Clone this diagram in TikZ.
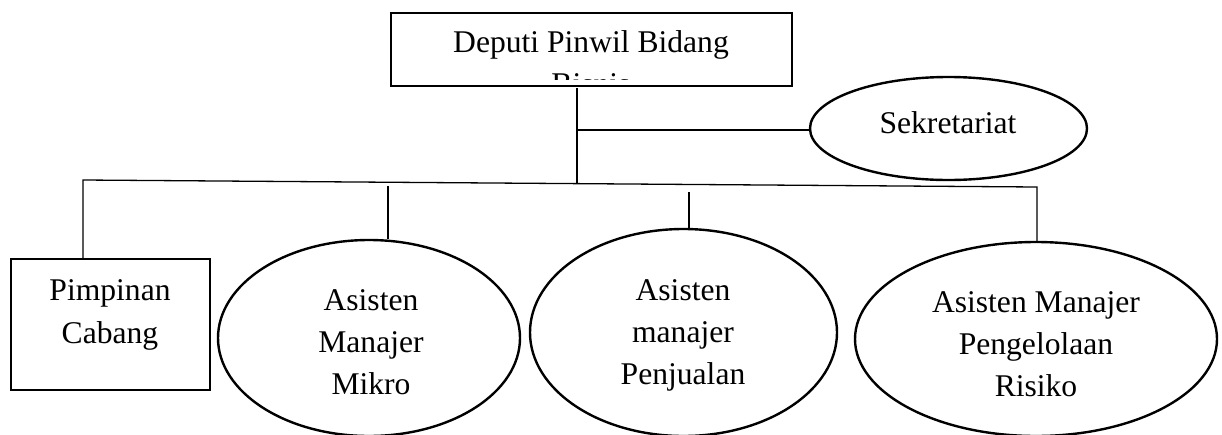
\documentclass[tikz,border=0pt]{standalone}
\usepackage{fontspec}
\setmainfont{Liberation Serif}
\usetikzlibrary{shapes.geometric}
\begin{document}
\begin{tikzpicture}[x=1pt,y=-1pt,
  shapeline/.style={draw=black, line width=2.4pt},
  conn/.style={draw=black, line width=1.3pt},
  txt/.style={font=\fontsize{31.6}{42}\selectfont, inner sep=0pt, anchor=base},
  oval/.style={ellipse, shapeline, inner sep=0pt},
  boxnode/.style={rectangle, shapeline, inner sep=0pt}]
\useasboundingbox (0,0) rectangle (1222,434);
\fill[white] (0,0) rectangle (1222,434);
% top box
\node[boxnode, minimum width=401pt, minimum height=73pt] (dep) at (591.5,49.5) {};
\begin{scope}
\clip (391,13) rectangle (792,79);
\node[txt] (deptxt) at (591,52) {Deputi Pinwil Bidang};
\node[txt] (deptxtb) at (591,94) {Bisnis};
\end{scope}
% Sekretariat
\node[oval, minimum width=277pt, minimum height=103pt] (sek) at (948.5,128.5) {};
\node[txt] (sektxt) at (948,133) {Sekretariat};
% Pimpinan Cabang
\node[boxnode, minimum width=199pt, minimum height=131pt] (pc) at (110.5,324.5) {};
\node[txt] (pc1) at (110,300) {Pimpinan};
\node[txt] (pc2) at (110,343) {Cabang};
% ellipse 2
\node[oval, minimum width=302pt, minimum height=196pt] (mik) at (369,338) {};
\node[txt] (mik1) at (371,310) {Asisten};
\node[txt] (mik2) at (371,352) {Manajer};
\node[txt] (mik3) at (371,394) {Mikro};
% ellipse 3
\node[oval, minimum width=307pt, minimum height=207pt] (pen) at (683.5,332.5) {};
\node[txt] (pen1) at (683,300) {Asisten};
\node[txt] (pen2) at (683,342) {manajer};
\node[txt] (pen3) at (683,384) {Penjualan};
% ellipse 4
\node[oval, minimum width=362pt, minimum height=194pt] (ris) at (1036,339) {};
\node[txt] (ris1) at (1036,312) {Asisten Manajer};
\node[txt] (ris2) at (1036,354) {Pengelolaan};
\node[txt] (ris3) at (1036,396) {Risiko};
% junction coordinates
\coordinate (vtop) at (577,88);
\coordinate (vbot) at (577,183.6);
\coordinate (vsek) at (577,130);
\coordinate (busL) at (83,180);
\coordinate (busR) at (1037,187);
\coordinate (mikS) at (388,186);
\coordinate (penS) at (689,192);
% connectors
\draw[conn] (vtop) -- (vbot);
\draw[conn] (vsek) -- (vsek -| sek.west);
\draw[conn] (pc.north -| busL) -- (busL) -- (busR) -- (ris.north -| busR);
\draw[conn] (mikS) -- (mik.north -| mikS);
\draw[conn] (penS) -- (pen.north -| penS);
\end{tikzpicture}
\end{document}
